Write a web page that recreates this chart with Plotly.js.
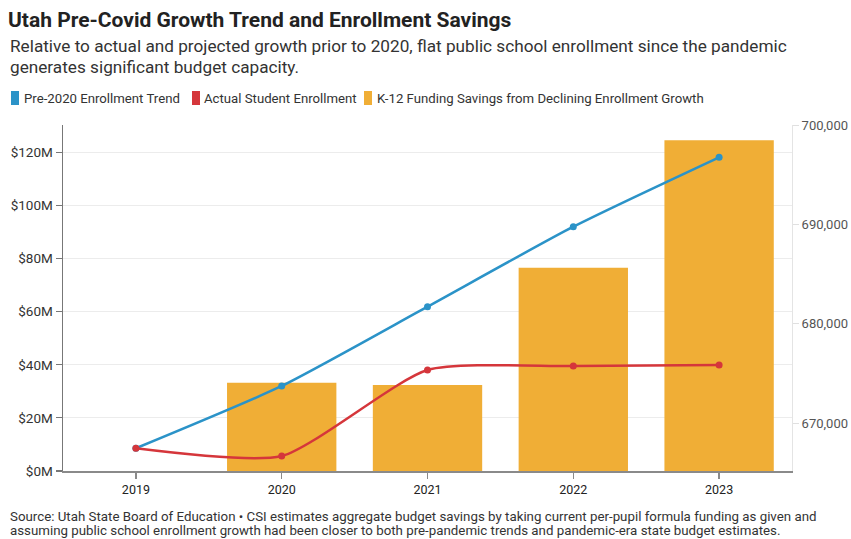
<!DOCTYPE html>
<html>
<head>
<meta charset="utf-8">
<script src="https://cdn.plot.ly/plotly-3.0.1.min.js"></script>
<style>html,body{margin:0;padding:0;background:#fff;}#chart{width:851px;height:539px;}</style>
</head>
<body>
<div id="chart"></div>
<script>
// ---- data ----
const years = ["2019", "2020", "2021", "2022", "2023"];
const savingsMillions = [null, 33.2, 32.4, 76.5, 124.6];
const pre2020Trend = [667485, 673750, 681726, 689772, 696751];
const actualEnrollment = [667485, 666710, 675359, 675761, 675862];
const leftTickVals = [0, 20, 40, 60, 80, 100, 120];
const leftTickText = ["$0M", "$20M", "$40M", "$60M", "$80M", "$100M", "$120M"];
const rightTickVals = [670000, 680000, 690000, 700000];
const rightTickText = ["670,000", "680,000", "690,000", "700,000"];
const seriesNames = ["Pre-2020 Enrollment Trend", "Actual Student Enrollment", "K-12 Funding Savings from Declining Enrollment Growth"];

// ---- style ----
const BLUE = "#2b93c8", RED = "#d5363b", ORANGE = "#f0ae36";
const FONT = "Roboto, 'Noto Sans', sans-serif";
const L = 63, R = 792, T = 125, B = 471;
const px = x => (x - L) / (R - L);
const py = y => (B - y) / (B - T);

const traces = [
  {type: "bar", x: years, y: savingsMillions, name: seriesNames[2], marker: {color: ORANGE}, yaxis: "y", hoverinfo: "skip"},
  {type: "scatter", mode: "lines+markers", x: years, y: pre2020Trend, name: seriesNames[0], yaxis: "y2",
   line: {color: BLUE, width: 2.5, shape: "spline", smoothing: 0.6}, marker: {color: BLUE, size: 7}},
  {type: "scatter", mode: "lines+markers", x: years, y: actualEnrollment, name: seriesNames[1], yaxis: "y2",
   line: {color: RED, width: 2.5, shape: "spline", smoothing: 0.6}, marker: {color: RED, size: 7}}
];

const legendItems = [
  {sx: 11, tx: 22, color: BLUE, text: seriesNames[0]},
  {sx: 192, tx: 202, color: RED, text: seriesNames[1]},
  {sx: 364, tx: 375, color: ORANGE, text: seriesNames[2]}
];

const shapes = legendItems.map(it => ({
  type: "rect", xref: "paper", yref: "paper",
  x0: px(it.sx), x1: px(it.sx + 8), y0: py(105), y1: py(91),
  fillcolor: it.color, line: {width: 0}, layer: "above"
}));

const annotations = [
  {text: "Relative to actual and projected growth prior to 2020, flat public school enrollment since the pandemic", x: px(8), y: py(46)},
  {text: "generates significant budget capacity.", x: px(8), y: py(67)},
].map(a => Object.assign(a, {xref: "paper", yref: "paper", xanchor: "left", yanchor: "middle", showarrow: false,
  font: {family: FONT, size: 17.2, color: "#333"}}));

legendItems.forEach(it => annotations.push({
  text: it.text, x: px(it.tx), y: py(98), xref: "paper", yref: "paper", xanchor: "left", yanchor: "middle",
  showarrow: false, font: {family: FONT, size: 13.2, color: "#333"}
}));

[
  {text: "Source: Utah State Board of Education • CSI estimates aggregate budget savings by taking current per-pupil formula funding as given and", y: 516},
  {text: "assuming public school enrollment growth had been closer to both pre-pandemic trends and pandemic-era state budget estimates.", y: 530.5}
].forEach(f => annotations.push({
  text: f.text, x: px(8), y: py(f.y), xref: "paper", yref: "paper", xanchor: "left", yanchor: "middle",
  showarrow: false, font: {family: FONT, size: 13.3, color: "#333"}
}));

const layout = {
  width: 851, height: 539,
  margin: {l: L, r: 851 - R, t: T, b: 539 - B, pad: 0},
  paper_bgcolor: "#fff", plot_bgcolor: "#fff",
  showlegend: false,
  bargap: 0.25,
  font: {family: FONT, color: "#333"},
  title: {text: "<b>Utah Pre-Covid Growth Trend and Enrollment Savings</b>", xref: "container", yref: "container",
    x: 8 / 851, xanchor: "left", y: 1 - 20 / 539, yanchor: "middle", font: {family: FONT, size: 21, color: "#222"}},
  xaxis: {type: "category", range: [-0.5, 4.5], showgrid: false, showline: true, linecolor: "#8a8a8a", linewidth: 1.5,
    ticks: "outside", ticklen: 6, tickcolor: "#8a8a8a", tickwidth: 1.2, tickfont: {family: FONT, size: 12.5, color: "#222"},
    fixedrange: true, zeroline: false},
  yaxis: {range: [0, 130.3], tickvals: leftTickVals, ticktext: leftTickText, showgrid: true, gridcolor: "#ececec", gridwidth: 1,
    showline: true, linecolor: "#777", linewidth: 1.5, ticks: "outside", ticklen: 6, tickcolor: "#777", tickwidth: 1.2,
    tickfont: {family: FONT, size: 13.5, color: "#333"}, zeroline: false, fixedrange: true},
  yaxis2: {overlaying: "y", side: "right", range: [665200, 700000], tickvals: rightTickVals, ticktext: rightTickText,
    showgrid: false, showline: true, linecolor: "#e4e4e4", linewidth: 1, ticks: "outside", ticklen: 6, tickcolor: "#e0e0e0",
    tickfont: {family: FONT, size: 13, color: "#555"}, zeroline: false, fixedrange: true},
  shapes: shapes,
  annotations: annotations
};

Plotly.newPlot("chart", traces, layout, {displayModeBar: false, staticPlot: true});
</script>
</body>
</html>
